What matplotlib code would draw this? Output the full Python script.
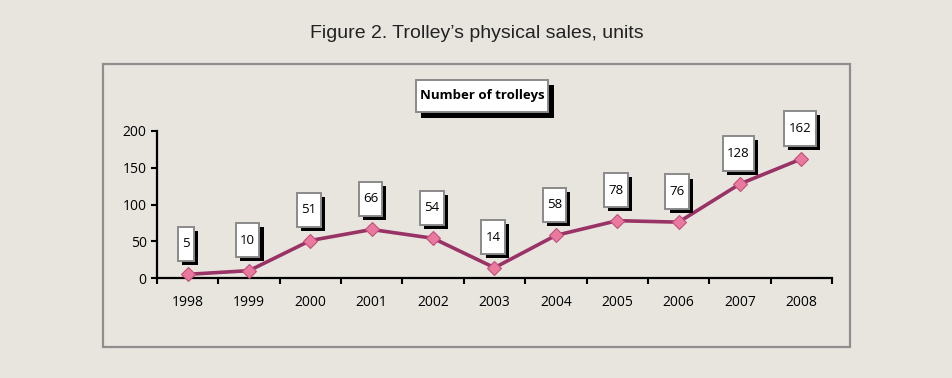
import matplotlib.pyplot as plt
import matplotlib.patheffects as pe
from matplotlib.patches import Rectangle
from matplotlib.path import Path
from matplotlib.transforms import Affine2D
import numpy as np

years = ['1998', '1999', '2000', '2001', '2002', '2003', '2004', '2005', '2006', '2007', '2008']
trolleys = [5, 10, 51, 66, 54, 14, 58, 78, 76, 128, 162]

bg = '#E8E5DF'
line_col = '#993366'
marker_fill = '#E9799E'

plt.rcParams['font.family'] = ['Open Sans', 'DejaVu Sans']


def tall_box(padx, height):
    # label box with a fixed height (in font sizes) around the text
    def style(x0, y0, width, h, mutation_size):
        px = padx * mutation_size
        hh = height * mutation_size / 2
        yc = y0 + h / 2
        return Path.unit_rectangle().transformed(
            Affine2D().scale(width + 2 * px, 2 * hh).translate(x0 - px, yc - hh))
    return style


fig = plt.figure(figsize=(9.53, 3.78), dpi=100, facecolor=bg)

# outer chart frame
fig.patches.append(Rectangle((103 / 953, 1 - 347 / 378), (850 - 103) / 953, (347 - 64) / 378,
                             transform=fig.transFigure, facecolor='none', edgecolor='#8E8E8E',
                             linewidth=1.6, zorder=-1))

fig.text(0.5, 1 - 33 / 378, "Figure 2. Trolley\u2019s physical sales, units",
         ha='center', va='center', fontsize=14, color='#222222',
         family=['Liberation Sans Narrow', 'Liberation Sans', 'DejaVu Sans'])

ax = fig.add_axes([157 / 953, 1 - 278 / 378, (832 - 157) / 953, (278 - 131) / 378])
ax.set_facecolor('none')

x = np.arange(len(years))
ax.plot(x, trolleys, color=line_col, linewidth=2.6, marker='D', markersize=7,
        markerfacecolor=marker_fill, markeredgecolor='#C0507A', markeredgewidth=0.8,
        clip_on=False, zorder=3)

# value labels in white boxes with a black drop shadow
shadow = [pe.SimplePatchShadow(offset=(3, -3), shadow_rgbFace='black', alpha=1.0), pe.Normal()]
for xi, v in zip(x, trolleys):
    t = ax.annotate(str(v), (xi, v), xytext=(-1, 22), textcoords='offset points',
                    ha='center', va='center', fontsize=9.5, color='black', zorder=4,
                    bbox=dict(boxstyle=tall_box(0.32, 2.6), facecolor='white',
                              edgecolor='#8A8A8A', linewidth=1.4))
    t.get_bbox_patch().set_path_effects(shadow)

ax.set_xlim(-0.5, len(years) - 0.5)
ax.set_ylim(0, 200)
ax.set_yticks([0, 50, 100, 150, 200])
ax.set_xticks(np.arange(-0.5, len(years), 1))
ax.set_xticklabels([])
ax.set_xticks(x, minor=True)
ax.set_xticklabels(years, minor=True)
ax.tick_params(axis='x', which='major', direction='out', length=4.5, width=1.5)
ax.tick_params(axis='x', which='minor', length=0, pad=12, labelsize=10)
ax.tick_params(axis='y', direction='out', length=4.5, width=1.5, labelsize=10, pad=3)

for s in ['top', 'right']:
    ax.spines[s].set_visible(False)
for s in ['left', 'bottom']:
    ax.spines[s].set_linewidth(1.6)

leg = fig.text(482 / 953, 1 - 96 / 378, 'Number of trolleys', ha='center', va='center',
               fontsize=9.5, fontweight='bold', color='black',
               bbox=dict(boxstyle=tall_box(0.3, 2.5), facecolor='white',
                         edgecolor='#8A8A8A', linewidth=1.4))
leg.get_bbox_patch().set_path_effects(
    [pe.SimplePatchShadow(offset=(4, -4), shadow_rgbFace='black', alpha=1.0), pe.Normal()])

fig.savefig('out.png', dpi=100, facecolor=bg)
